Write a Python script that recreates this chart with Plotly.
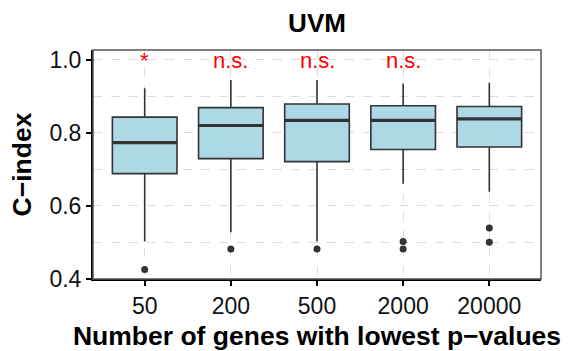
import plotly.graph_objects as go

# Gene-set sizes compared for UVM
categories = ["50", "200", "500", "2000", "20000"]

# Box statistics of the C-index per gene-set size
q1 = [0.688, 0.729, 0.721, 0.754, 0.761]
median = [0.773, 0.820, 0.834, 0.834, 0.838]
q3 = [0.843, 0.869, 0.879, 0.874, 0.872]
lower_whisker = [0.502, 0.527, 0.502, 0.660, 0.638]
upper_whisker = [0.922, 0.945, 0.945, 0.935, 0.937]

# Outlying runs beyond the whiskers
outlier_group = ["50", "200", "500", "2000", "2000", "20000", "20000"]
outlier_value = [0.425, 0.481, 0.481, 0.502, 0.481, 0.539, 0.500]

# Significance marks versus the full gene set
signif = ["*", "n.s.", "n.s.", "n.s.", ""]
signif_y = 1.0

FONT = "Liberation Sans, Arial, Helvetica, sans-serif"
BOX_W = 0.75
EDGE = "#333333"

pos = list(range(len(categories)))
idx = {c: i for i, c in enumerate(categories)}

fig = go.Figure()

fig.add_trace(go.Box(
    x=pos, q1=q1, median=median, q3=q3,
    lowerfence=lower_whisker, upperfence=upper_whisker,
    width=BOX_W, whiskerwidth=0,
    fillcolor="#ADD8E6",
    line=dict(color=EDGE, width=1.6),
    boxpoints=False, showlegend=False, hoverinfo="skip",
))

# Thick median bars
for i, m in zip(pos, median):
    fig.add_trace(go.Scatter(
        x=[i - BOX_W / 2, i + BOX_W / 2], y=[m, m], mode="lines",
        line=dict(color=EDGE, width=3.2), showlegend=False, hoverinfo="skip",
    ))

fig.add_trace(go.Scatter(
    x=[idx[g] for g in outlier_group], y=outlier_value, mode="markers",
    marker=dict(color=EDGE, size=7), showlegend=False, hoverinfo="skip",
))

for i, s in zip(pos, signif):
    if s:
        fig.add_annotation(
            x=i, y=signif_y, text=s, showarrow=False,
            font=dict(family=FONT, size=22, color="#FF0000"),
            yanchor="middle", yshift=-1,
        )

grid = "#dcdcdc"
fig.update_layout(
    width=575, height=351,
    margin=dict(l=93, r=34, t=50, b=72),
    paper_bgcolor="white", plot_bgcolor="white",
    font=dict(family=FONT, color="black"),
    title=dict(
        text="<b>UVM</b>", x=0.5, xref="paper", xanchor="center",
        y=0.935, yanchor="middle",
        font=dict(family=FONT, size=26, color="black"),
    ),
    xaxis=dict(
        range=[-0.6, 4.6], tickmode="array", tickvals=pos, ticktext=categories,
        showgrid=True, gridcolor=grid, griddash="dash", gridwidth=1,
        zeroline=False, showline=True, linecolor="black", linewidth=2,
        ticks="outside", ticklen=5, tickwidth=1.5, tickcolor="black",
        tickfont=dict(family=FONT, size=23, color="#111111"),
        automargin=False,
        title=dict(text="<b>Number of genes with lowest p\u2212values</b>",
                   font=dict(family=FONT, size=26.5, color="black"), standoff=13),
    ),
    yaxis=dict(
        range=[0.399, 1.027], tickmode="array",
        tickvals=[0.4, 0.6, 0.8, 1.0], ticktext=["0.4", "0.6", "0.8", "1.0"],
        showgrid=True, gridcolor=grid, griddash="dash", gridwidth=1,
        minor=dict(tickmode="array", tickvals=[0.5, 0.7, 0.9], showgrid=True,
                   gridcolor=grid, griddash="dash", gridwidth=1, ticks=""),
        zeroline=False, showline=True, linecolor="black", linewidth=2,
        ticks="outside", ticklen=5, tickwidth=1.5, tickcolor="black",
        tickfont=dict(family=FONT, size=23, color="#111111"),
        automargin=False,
        title=dict(text="<b>C\u2212index</b>",
                   font=dict(family=FONT, size=26.5, color="black"), standoff=10),
    ),
    shapes=[dict(type="rect", xref="paper", yref="paper", x0=0, x1=1, y0=0, y1=1,
                 line=dict(color="#555555", width=1.5), fillcolor="rgba(0,0,0,0)",
                 layer="above")],
)

fig.write_html("out.html")
